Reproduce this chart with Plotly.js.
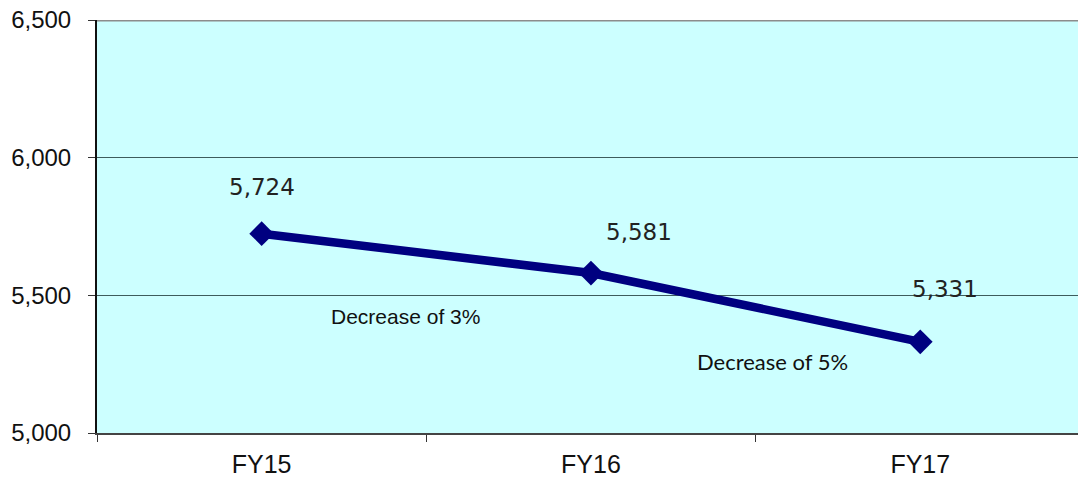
<!DOCTYPE html>
<html>
<head>
<meta charset="utf-8">
<script src="https://cdn.plot.ly/plotly-3.0.1.min.js"></script>
<style>html,body{margin:0;padding:0;background:#fff;}</style>
</head>
<body>
<div id="chart" style="width:1078px;height:478px;"></div>
<script>
const categories = ["FY15", "FY16", "FY17"];
const values = [5724, 5581, 5331];
const valueLabels = ["5,724", "5,581", "5,331"];
const changeLabels = ["Decrease of 3%", "Decrease of 5%"];
const yTicks = [5000, 5500, 6000, 6500];
const yTickLabels = ["5,000", "5,500", "6,000", "6,500"];

const labelShift = [[0, 47], [48, 41], [25, 53]];
const annotations = values.map((v, i) => ({
  x: categories[i], y: v, xref: "x", yref: "y",
  xanchor: "center", yanchor: "middle",
  text: valueLabels[i], showarrow: false,
  xshift: labelShift[i][0], yshift: labelShift[i][1],
  font: {family: "DejaVu Sans", size: 23, color: "#222"}
}));
annotations.push({
  xref: "paper", yref: "paper", x: 0.314, y: 0.283,
  xanchor: "center", yanchor: "middle",
  text: changeLabels[0], showarrow: false,
  font: {family: "Liberation Sans, Arial", size: 21, color: "#111"}
});
annotations.push({
  xref: "paper", yref: "paper", x: 0.689, y: 0.172,
  xanchor: "center", yanchor: "middle",
  text: changeLabels[1], showarrow: false,
  font: {family: "Lato", size: 22, color: "#111"}
});

const trace = {
  x: categories, y: values, type: "scatter", mode: "lines+markers",
  line: {color: "#000080", width: 8.5},
  marker: {symbol: "diamond", size: 19, color: "#000080"},
  hoverinfo: "skip"
};

const layout = {
  width: 1078, height: 478,
  margin: {l: 97, r: 0, t: 20, b: 45, pad: 0},
  paper_bgcolor: "#ffffff",
  plot_bgcolor: "#CCFFFF",
  showlegend: false,
  font: {family: "Liberation Sans, Arial", size: 24, color: "#111"},
  xaxis: {
    type: "category", range: [-0.5, 2.479],
    tickson: "boundaries", ticks: "outside", ticklen: 7, tickwidth: 1, tickcolor: "#333",
    ticklabelstandoff: 8,
    showgrid: false, showline: true, linecolor: "#444", linewidth: 2,
    tickfont: {family: "Liberation Sans, Arial", size: 25, color: "#111"},
    zeroline: false, fixedrange: true
  },
  yaxis: {
    range: [5000, 6500], tickvals: yTicks, ticktext: yTickLabels,
    ticks: "outside", ticklen: 7, tickwidth: 1, tickcolor: "#333",
    ticklabelstandoff: 12,
    showgrid: true, gridcolor: "#3d5c5c", gridwidth: 1.5,
    showline: true, linecolor: "#111", linewidth: 2,
    tickfont: {family: "Liberation Sans, Arial", size: 24, color: "#111"},
    zeroline: false, fixedrange: true
  },
  shapes: [{type: "line", xref: "paper", yref: "y", x0: 0, x1: 1, y0: 6500, y1: 6500,
            line: {color: "#8c8c8c", width: 3}}],
  annotations: annotations
};

Plotly.newPlot("chart", [trace], layout, {staticPlot: true, displayModeBar: false});
</script>
</body>
</html>
